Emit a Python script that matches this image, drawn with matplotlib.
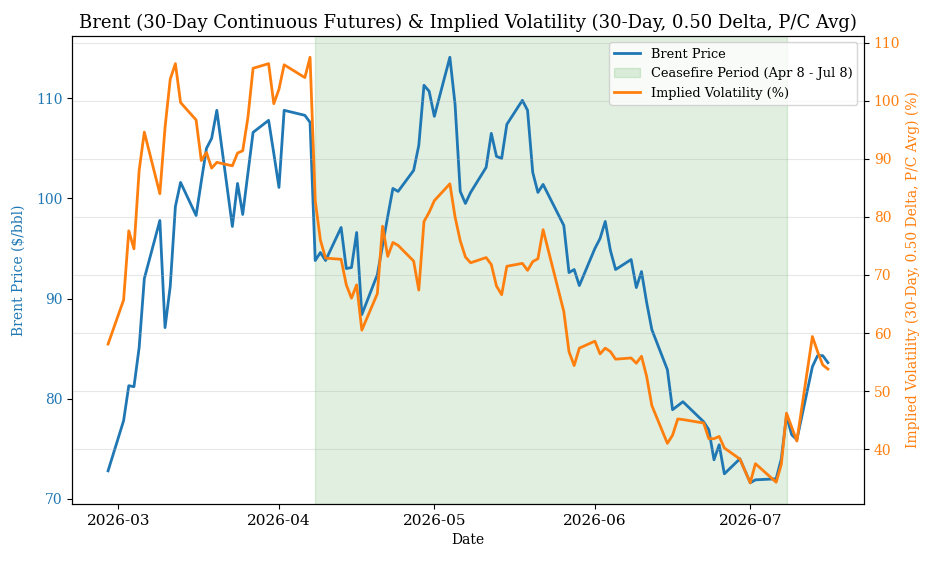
import pandas as pd
import matplotlib
matplotlib.use("Agg")
import matplotlib.pyplot as plt

plt.rcParams["font.family"] = "DejaVu Serif"

# trading days shown in the chart
dates = pd.to_datetime([
    "2026-02-27", "2026-03-02", "2026-03-03", "2026-03-04", "2026-03-05", "2026-03-06",
    "2026-03-09", "2026-03-10", "2026-03-11", "2026-03-12", "2026-03-13",
    "2026-03-16", "2026-03-17", "2026-03-18", "2026-03-19", "2026-03-20",
    "2026-03-23", "2026-03-24", "2026-03-25", "2026-03-26", "2026-03-27",
    "2026-03-30", "2026-03-31", "2026-04-01", "2026-04-02",
    "2026-04-06", "2026-04-07", "2026-04-08", "2026-04-09", "2026-04-10",
    "2026-04-13", "2026-04-14", "2026-04-15", "2026-04-16", "2026-04-17",
    "2026-04-20", "2026-04-21", "2026-04-22", "2026-04-23", "2026-04-24",
    "2026-04-27", "2026-04-28", "2026-04-29", "2026-04-30", "2026-05-01",
    "2026-05-04", "2026-05-05", "2026-05-06", "2026-05-07", "2026-05-08",
    "2026-05-11", "2026-05-12", "2026-05-13", "2026-05-14", "2026-05-15",
    "2026-05-18", "2026-05-19", "2026-05-20", "2026-05-21", "2026-05-22",
    "2026-05-26", "2026-05-27", "2026-05-28", "2026-05-29",
    "2026-06-01", "2026-06-02", "2026-06-03", "2026-06-04", "2026-06-05",
    "2026-06-08", "2026-06-09", "2026-06-10", "2026-06-11", "2026-06-12",
    "2026-06-15", "2026-06-16", "2026-06-17", "2026-06-18",
    "2026-06-22", "2026-06-23", "2026-06-24", "2026-06-25", "2026-06-26",
    "2026-06-29", "2026-07-01", "2026-07-02",
    "2026-07-06", "2026-07-07", "2026-07-08", "2026-07-09", "2026-07-10",
    "2026-07-13", "2026-07-14", "2026-07-15", "2026-07-16",
])

brent = [
    72.8, 77.8, 81.3, 81.2, 85.1, 92.0,
    97.8, 87.1, 91.2, 99.2, 101.6,
    98.3, 101.7, 105.0, 106.0, 108.8,
    97.2, 101.5, 98.4, 102.5, 106.6,
    107.8, 104.5, 101.1, 108.8,
    108.3, 107.6, 93.8, 94.6, 93.8,
    97.1, 93.0, 93.1, 96.6, 88.4,
    92.4, 95.3, 98.2, 101.0, 100.7,
    102.8, 105.3, 111.3, 110.7, 108.2,
    114.1, 109.4, 100.7, 99.5, 100.6,
    103.1, 106.5, 104.2, 104.0, 107.4,
    109.8, 108.8, 102.6, 100.6, 101.4,
    97.3, 92.6, 92.9, 91.3,
    95.0, 96.0, 97.7, 94.8, 92.9,
    93.9, 91.1, 92.7, 89.6, 86.9,
    82.9, 78.9, 79.3, 79.7,
    77.7, 76.9, 73.9, 75.4, 72.5,
    74.0, 71.6, 71.9,
    72.0, 74.0, 78.3, 76.4, 75.9,
    83.2, 84.3, 84.3, 83.6,
]

iv = [
    58.1, 65.7, 77.6, 74.5, 88.0, 94.6,
    84.0, 95.4, 103.7, 106.4, 99.7,
    96.7, 89.7, 91.1, 88.4, 89.4,
    88.8, 91.0, 91.4, 97.1, 105.6,
    106.4, 99.5, 102.0, 106.2,
    104.0, 107.5, 82.8, 76.0, 72.9,
    72.7, 68.3, 66.0, 68.3, 60.5,
    66.8, 78.4, 73.2, 75.6, 75.1,
    72.4, 67.4, 79.2, 80.8, 82.8,
    85.7, 80.0, 75.9, 73.1, 72.1,
    73.0, 71.8, 68.1, 66.6, 71.5,
    72.0, 70.8, 72.3, 72.8, 77.8,
    63.7, 56.8, 54.4, 57.4,
    58.6, 56.4, 57.4, 56.8, 55.5,
    55.7, 54.8, 56.0, 52.5, 47.5,
    41.0, 42.4, 45.2, 45.1,
    44.5, 41.8, 41.8, 42.2, 40.2,
    38.3, 34.2, 37.5,
    34.3, 37.4, 46.2, 43.8, 41.4,
    59.4, 56.8, 54.5, 53.8,
]

ceasefire_start = pd.Timestamp("2026-04-08")
ceasefire_end = pd.Timestamp("2026-07-08")

fig, ax1 = plt.subplots(figsize=(9.36, 5.62), dpi=100)
fig.subplots_adjust(left=0.077, right=0.923, top=0.936, bottom=0.103)

l1, = ax1.plot(dates, brent, color="tab:blue", linewidth=2, label="Brent Price")
span = ax1.axvspan(ceasefire_start, ceasefire_end, color="green", alpha=0.12,
                   label="Ceasefire Period (Apr 8 - Jul 8)")
ax1.set_xlabel("Date")
ax1.set_ylabel("Brent Price ($/bbl)", color="tab:blue", labelpad=7)
ax1.tick_params(axis="y", labelcolor="tab:blue")
ax1.tick_params(axis="x", labelsize=11)

ax2 = ax1.twinx()
l2, = ax2.plot(dates, iv, color="tab:orange", linewidth=2, label="Implied Volatility (%)")
ax2.set_ylabel("Implied Volatility (30-Day, 0.50 Delta, P/C Avg) (%)", color="tab:orange")
ax2.tick_params(axis="y", labelcolor="tab:orange")
ax2.grid(True, axis="y", alpha=0.3)

ax2.legend([l1, span, l2], [l1.get_label(), span.get_label(), l2.get_label()],
           loc="upper right", fontsize=9.3)

ax1.set_title("Brent (30-Day Continuous Futures) & Implied Volatility (30-Day, 0.50 Delta, P/C Avg)",
              fontsize=13)

plt.savefig("out.png", dpi=100)
